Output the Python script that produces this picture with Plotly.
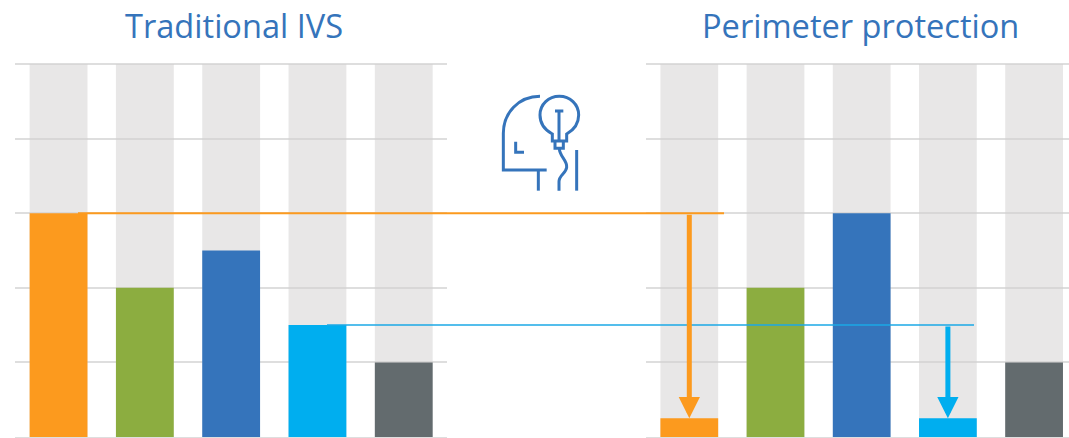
import plotly.graph_objects as go

W, H = 1069, 438
categories = ["A", "B", "C", "D", "E"]
capacity = [5, 5, 5, 5, 5]
traditional_ivs = [3, 2, 2.5, 1.5, 1]
perimeter_protection = [0.25, 2, 3, 0.25, 1]
bar_colors = ["#FC9A1E", "#8CAD40", "#3574BB", "#00AEEF", "#636B6E"]
panel_titles = ["Traditional IVS", "Perimeter protection"]
BLUE = "#3574BB"

fig = go.Figure()
for suffix, values in (("", traditional_ivs), ("2", perimeter_protection)):
    fig.add_bar(x=categories, y=capacity, xaxis="x" + suffix, yaxis="y" + suffix,
                marker=dict(color="rgba(210,208,208,0.5)", line_width=0), showlegend=False)
    fig.add_bar(x=categories, y=values, xaxis="x" + suffix, yaxis="y" + suffix,
                marker=dict(color=bar_colors, line_width=0), showlegend=False)

def px(x):
    return x / W

def py(y):
    return 1 - y / H

axis_y = dict(range=[0, 5.02], dtick=1, showticklabels=False, showgrid=True, gridcolor="#DEDEDE",
              gridwidth=2, zeroline=False, showline=False, ticks="")
axis_x = dict(showticklabels=False, ticks="", showgrid=False, zeroline=False,
              showline=True, linecolor="#DEDEDE", linewidth=2, type="category", fixedrange=True)
fig.update_layout(
    width=W, height=H, margin=dict(l=0, r=0, t=0, b=0),
    paper_bgcolor="white", plot_bgcolor="white",
    barmode="overlay", bargap=0.33, showlegend=False,
    xaxis=dict(axis_x, domain=[px(15.4), px(446.9)], range=[-0.5, 4.5]),
    xaxis2=dict(axis_x, domain=[px(646.2), 1], range=[-0.5, 4.5 - 8.2 / 86.3]),
    yaxis=dict(axis_y, domain=[py(437), py(62.5)], anchor="x"),
    yaxis2=dict(axis_y, domain=[py(437), py(62.5)], anchor="x2"),
)

for text, cx in zip(panel_titles, (234, 860)):
    fig.add_annotation(text=text, xref="paper", yref="paper", x=px(cx), y=py(26), showarrow=False,
                       font=dict(family="Open Sans", size=32.6, color=BLUE, weight=400),
                       xanchor="center", yanchor="middle")

# connector lines between the panels
connectors = [(78, 724, traditional_ivs[0], "#FC9A1E", 2), (327, 974, traditional_ivs[3], "#1BA9E6", 1.5)]
for x0, x1, level, color, lw in connectors:
    fig.add_shape(type="line", xref="paper", yref="y", x0=px(x0), x1=px(x1), y0=level, y1=level,
                  line=dict(color=color, width=lw), layer="above")

# drop arrows
arrows = [("A", traditional_ivs[0], perimeter_protection[0], "#FC9A1E"),
          ("D", traditional_ivs[3], perimeter_protection[3], "#00AEEF")]
for cat, start, end, color in arrows:
    fig.add_annotation(xref="x2", yref="y2", axref="x2", ayref="y2", x=cat, y=end, ax=cat, ay=start,
                       text="", showarrow=True, arrowhead=2, arrowsize=0.85, arrowwidth=5,
                       arrowcolor=color, standoff=0)

# head + light bulb icon (zoom coords of a 120 px crop, 3x)
def z(zx, zy):
    return f"{px(480 + zx / 3):.5f},{py(80 + zy / 3):.5f}"

icon_paths = [
    f"M{z(180,49)} C{z(115,49)} {z(70,100)} {z(70,160)} L{z(70,270)} L{z(200,270)}",
    f"M{z(175,270)} L{z(175,332)}",
    f"M{z(107,185)} L{z(107,217)} L{z(132,217)}",
    f"M{z(217,183)} L{z(217,162)} C{z(195,150)} {z(180,130)} {z(180,105)} "
    f"C{z(180,72)} {z(206,49)} {z(238,49)} C{z(270,49)} {z(296,72)} {z(296,105)} "
    f"C{z(296,130)} {z(281,150)} {z(260,162)} L{z(260,183)} Z",
    f"M{z(225,185)} L{z(225,205)} L{z(250,205)} L{z(250,185)}",
    f"M{z(225,93)} L{z(250,93)} M{z(237,93)} L{z(237,185)}",
    f"M{z(238,205)} C{z(238,230)} {z(262,240)} {z(260,262)} C{z(258,280)} {z(237,285)} {z(237,305)} L{z(237,332)}",
    f"M{z(290,210)} L{z(290,332)}",
]
for p in icon_paths:
    fig.add_shape(type="path", xref="paper", yref="paper", path=p,
                  line=dict(color=BLUE, width=3), layer="above")

fig.write_html("out.html", config=dict(displayModeBar=False),
               post_script="document.body.style.margin='0';")
